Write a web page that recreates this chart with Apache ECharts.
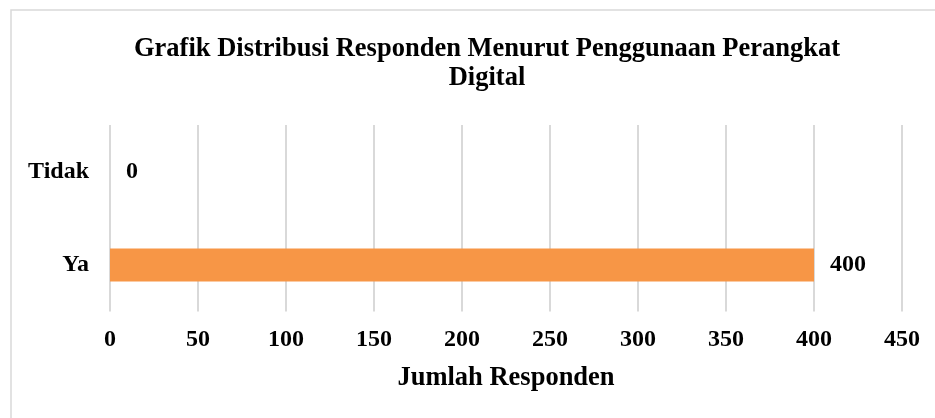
<!DOCTYPE html>
<html lang="id">
<head>
    <meta charset="UTF-8">
    <title>Grafik Distribusi Responden</title>
    <script src="https://cdn.jsdelivr.net/npm/echarts@6/dist/echarts.min.js"></script>
    <style>
        html, body { margin: 0; padding: 0; background: #fff; }
        #container { width: 935px; height: 418px; }
    </style>
</head>
<body>
<div id="container"></div>
<script>
    // kategori dari bawah ke atas
    var categories = ['Ya', 'Tidak'];
    var respondents = [400, 0];
    var axisMin = 0;
    var axisMax = 450;
    var axisStep = 50;

    var serif = "'Liberation Serif', 'Times New Roman', serif";
    var gridColor = '#d9d9d9';

    var myChart = echarts.init(document.getElementById('container'));
    var option = {
        backgroundColor: '#fff',
        animation: false,
        title: {
            text: 'Grafik Distribusi Responden Menurut Penggunaan Perangkat\nDigital',
            left: 482,
            top: 30,
            textAlign: 'center',
            textStyle: {
                fontFamily: serif,
                fontWeight: 'bold',
                fontSize: 26.5,
                lineHeight: 29,
                color: '#000'
            }
        },
        graphic: [{
            type: 'rect',
            shape: { x: 11, y: 10, width: 960, height: 440 },
            style: { fill: 'none', stroke: gridColor, lineWidth: 1.5 },
            silent: true
        }],
        grid: {
            left: 110,
            right: 33,
            top: 125,
            bottom: 106.5
        },
        xAxis: {
            type: 'value',
            min: axisMin,
            max: axisMax,
            interval: axisStep,
            name: 'Jumlah Responden',
            nameLocation: 'middle',
            nameGap: 53,
            nameTextStyle: {
                fontFamily: serif,
                fontWeight: 'bold',
                fontSize: 26.5,
                color: '#000'
            },
            axisLine: { show: false },
            axisTick: { show: false },
            axisLabel: {
                margin: 16,
                fontFamily: serif,
                fontWeight: 'bold',
                fontSize: 24,
                color: '#000'
            },
            splitLine: {
                show: true,
                lineStyle: { color: gridColor, width: 2 }
            }
        },
        yAxis: {
            type: 'category',
            data: categories,
            axisLine: { show: false },
            axisTick: { show: false },
            axisLabel: {
                margin: 21,
                fontFamily: serif,
                fontWeight: 'bold',
                fontSize: 24,
                color: '#000'
            },
            splitLine: { show: false }
        },
        series: [{
            type: 'bar',
            data: respondents,
            barWidth: 33,
            itemStyle: { color: '#f79646' },
            label: {
                show: true,
                position: 'right',
                distance: 16,
                fontFamily: serif,
                fontWeight: 'bold',
                fontSize: 24,
                color: '#000'
            }
        }]
    };
    myChart.setOption(option, true);
</script>
</body>
</html>
